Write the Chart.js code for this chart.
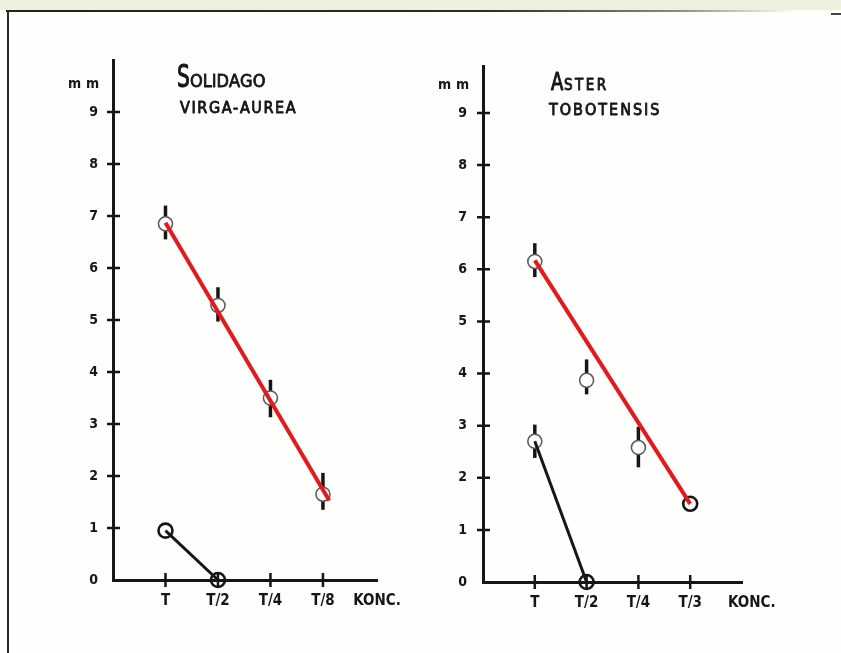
<!DOCTYPE html>
<html>
<head>
<meta charset="utf-8">
<title>Solidago / Aster</title>
<script src="https://cdn.jsdelivr.net/npm/chart.js@4.4.1/dist/chart.umd.min.js"></script>
<style>
    html, body { margin: 0; padding: 0; background: #fefefc; }
    #sheet { position: relative; width: 841px; height: 653px; overflow: hidden; background: #fefefc; }
    #sheet .strip { position: absolute; left: 0; top: 0; width: 841px; height: 10px; background: #eef0dd; }
    #sheet .edge-top { position: absolute; left: 6px; top: 10px; width: 790px; height: 2px;
        background: linear-gradient(to right, #222 0%, #2a2a2a 60%, #888 85%, rgba(160,160,160,0) 100%); }
    #sheet .edge-left { position: absolute; left: 7px; top: 10px; width: 2px; height: 643px; background: #2a2a2a; }
    #sheet .edge-right { position: absolute; left: 831px; top: 13px; width: 10px; height: 2px; background: #444; }
    #sheet canvas { position: absolute; top: 0; }
    #solidago { left: 0; }
    #aster { left: 420px; }
</style>
</head>
<body>
<div id="sheet">
    <div class="strip"></div>
    <div class="edge-top"></div>
    <div class="edge-left"></div>
    <div class="edge-right"></div>
    <canvas id="solidago" width="420" height="653"></canvas>
    <canvas id="aster" width="421" height="653"></canvas>
</div>
<script>
(function () {
    "use strict";

    const ink = "#161616";
    const red = "#e3191c";
    const ring = "#5c5c5c";
    const face = "'DejaVu Sans Condensed', 'DejaVu Sans', sans-serif";

    // concentration steps along the x axis
    const steps = [1, 2, 3, 4];
    const yTicks = [0, 1, 2, 3, 4, 5, 6, 7, 8, 9];
    const unitLabel = "mm";
    const concLabel = "KONC.";

    // Solidago virga-aurea
    const solidagoLabels = ["T", "T/2", "T/4", "T/8"];
    const solidagoMean = [6.85, 5.28, 3.5, 1.65];
    const solidagoLow = [6.55, 4.97, 3.13, 1.35];
    const solidagoHigh = [7.2, 5.63, 3.85, 2.06];
    const solidagoFitX = [1, 4.12];
    const solidagoFitY = [6.87, 1.53];
    const solidagoControl = [0.95, 0];
    const solidagoControlLow = [null, null];
    const solidagoControlHigh = [null, null];

    // Aster tobotensis
    const asterLabels = ["T", "T/2", "T/4", "T/3"];
    const asterMean = [6.15, 3.87, 2.58, 1.5];
    const asterLow = [5.85, 3.6, 2.2, null];
    const asterHigh = [6.5, 4.27, 2.98, null];
    const asterFitX = [1, 4];
    const asterFitY = [6.17, 1.5];
    const asterControl = [2.7, 0];
    const asterControlLow = [2.38, null];
    const asterControlHigh = [3.02, null];

    function hasBar(low, high) {
        return low.map((lo, i) => lo != null && high[i] != null);
    }

    // small "+" marks where the ticks cross both axes
    const crossTicks = {
        id: "crossTicks",
        beforeDatasetsDraw(chart) {
            const { ctx, chartArea: a, scales: { x, y } } = chart;
            ctx.save();
            ctx.strokeStyle = ink;
            ctx.lineWidth = 2.5;
            ctx.beginPath();
            yTicks.slice(1).forEach((v) => {
                const py = y.getPixelForValue(v);
                ctx.moveTo(a.left - 6, py);
                ctx.lineTo(a.left + 7, py);
            });
            steps.forEach((v) => {
                const px = x.getPixelForValue(v);
                ctx.moveTo(px, a.bottom - 7);
                ctx.lineTo(px, a.bottom + 7);
            });
            ctx.stroke();
            ctx.restore();
        },
    };

    // vertical spread bars behind the ring markers
    const whiskers = {
        id: "whiskers",
        beforeDatasetsDraw(chart, args, opts) {
            const { ctx, scales: { x, y } } = chart;
            ctx.save();
            ctx.strokeStyle = ink;
            ctx.lineWidth = 3.5;
            ctx.lineCap = "butt";
            (opts.sets || []).forEach((set) => {
                set.low.forEach((lo, i) => {
                    const hi = set.high[i];
                    if (lo == null || hi == null) return;
                    const px = x.getPixelForValue(steps[i]);
                    ctx.beginPath();
                    ctx.moveTo(px, y.getPixelForValue(lo));
                    ctx.lineTo(px, y.getPixelForValue(hi));
                    ctx.stroke();
                });
            });
            ctx.restore();
        },
    };

    // letter by letter, with a thin outline so the strokes look inked
    function spaced(ctx, text, x, y, gap) {
        for (const ch of text) {
            ctx.fillText(ch, x, y);
            ctx.strokeText(ch, x, y);
            x += ctx.measureText(ch).width + gap;
        }
        return x;
    }

    // hand-lettered species name and the unit over the y axis
    const captions = {
        id: "captions",
        afterDraw(chart, args, o) {
            const { ctx, chartArea: a } = chart;
            ctx.save();
            ctx.fillStyle = ink;
            ctx.strokeStyle = ink;
            ctx.lineWidth = 0.8;
            ctx.lineJoin = "round";
            ctx.textBaseline = "alphabetic";

            ctx.save();
            ctx.translate(a.left + o.initialDx, a.top + o.titleDy);
            ctx.scale(o.squeeze, 1);
            ctx.font = o.initialSize + "px " + face;
            ctx.lineWidth = 1.1;
            ctx.fillText(o.initial, 0, 0);
            ctx.strokeText(o.initial, 0, 0);
            ctx.restore();

            ctx.font = o.restSize + "px " + face;
            spaced(ctx, o.rest, a.left + o.restDx, a.top + o.titleDy, o.restGap);

            ctx.font = o.subSize + "px " + face;
            spaced(ctx, o.sub, a.left + o.subDx, a.top + o.subDy, o.subGap);

            ctx.font = "bold 14px " + face;
            for (const [i, ch] of [...unitLabel].entries()) {
                ctx.fillText(ch, a.left + o.unitDx + i * 18, a.top + o.unitDy);
            }
            ctx.restore();
        },
    };

    function panel(id, p) {
        const barT = hasBar(p.low, p.high);
        const barC = hasBar(p.controlLow, p.controlHigh);
        const ringStyle = (bars) => ({
            pointRadius: 7,
            pointHoverRadius: 7,
            pointBorderWidth: bars.map((b) => (b ? 1.6 : 2.6)),
            pointBorderColor: bars.map((b) => (b ? ring : ink)),
            pointBackgroundColor: bars.map((b) => (b ? "#ffffff" : "rgba(255,255,255,0)")),
        });

        return new Chart(document.getElementById(id), {
            type: "line",
            data: {
                datasets: [
                    {
                        label: "fit",
                        data: p.fitX.map((x, i) => ({ x, y: p.fitY[i] })),
                        borderColor: red,
                        borderWidth: 4,
                        pointRadius: 0,
                        order: 0,
                        clip: false,
                    },
                    {
                        label: "control",
                        data: p.control.map((v, i) => ({ x: steps[i], y: v })),
                        borderColor: ink,
                        borderWidth: 3,
                        pointRadius: 0,
                        order: 1,
                        clip: false,
                    },
                    Object.assign({
                        label: "treated",
                        data: p.mean.map((v, i) => ({ x: steps[i], y: v })),
                        showLine: false,
                        order: 2,
                        clip: false,
                    }, ringStyle(barT)),
                    Object.assign({
                        label: "control rings",
                        data: p.control.map((v, i) => ({ x: steps[i], y: v })),
                        showLine: false,
                        order: 2,
                        clip: false,
                    }, ringStyle(barC)),
                ],
            },
            options: {
                responsive: false,
                devicePixelRatio: 1,
                animation: false,
                events: [],
                layout: {
                    padding: { top: p.top, right: p.right, left: 0, bottom: 0 },
                },
                plugins: {
                    legend: { display: false },
                    tooltip: { enabled: false },
                    whiskers: {
                        sets: [
                            { low: p.low, high: p.high },
                            { low: p.controlLow, high: p.controlHigh },
                        ],
                    },
                    captions: p.caption,
                },
                scales: {
                    x: {
                        type: "linear",
                        min: 0,
                        max: p.xMax,
                        grid: { display: false, drawTicks: false },
                        border: { display: true, color: ink, width: 3 },
                        afterBuildTicks: (s) => {
                            s.ticks = steps
                                .map((v) => ({ value: v }))
                                .concat([{ value: p.concAt }]);
                        },
                        ticks: {
                            autoSkip: false,
                            maxRotation: 0,
                            padding: 12,
                            color: ink,
                            font: { family: face, size: 15, weight: "bold" },
                            callback: (v) =>
                                v === p.concAt ? concLabel : p.labels[steps.indexOf(v)],
                        },
                        afterFit: (s) => {
                            s.height = p.xHeight;
                            s.paddingLeft = 0;
                            s.paddingRight = 0;
                        },
                    },
                    y: {
                        type: "linear",
                        min: 0,
                        max: p.yMax,
                        grid: { display: false, drawTicks: false },
                        border: { display: true, color: ink, width: 3 },
                        afterBuildTicks: (s) => {
                            s.ticks = yTicks.map((v) => ({ value: v }));
                        },
                        ticks: {
                            padding: p.yPad,
                            color: ink,
                            font: { family: face, size: 14, weight: "bold" },
                            callback: (v) => String(v),
                        },
                        afterFit: (s) => {
                            s.width = p.yWidth;
                            s.paddingTop = 0;
                            s.paddingBottom = 0;
                        },
                    },
                },
            },
            plugins: [crossTicks, whiskers, captions],
        });
    }

    panel("solidago", {
        labels: solidagoLabels,
        mean: solidagoMean,
        low: solidagoLow,
        high: solidagoHigh,
        fitX: solidagoFitX,
        fitY: solidagoFitY,
        control: solidagoControl,
        controlLow: solidagoControlLow,
        controlHigh: solidagoControlHigh,
        top: 60,
        right: 43,
        yWidth: 113,
        xHeight: 73,
        yMax: 10,
        xMax: 5.03,
        concAt: 5.03,
        yPad: 15,
        caption: {
            initial: "S", rest: "OLIDAGO", sub: "VIRGA-AUREA",
            initialSize: 32, squeeze: 0.7, restSize: 18, subSize: 16,
            restGap: 0, subGap: 1.6,
            initialDx: 64, restDx: 77, titleDy: 27,
            subDx: 67, subDy: 53,
            unitDx: -45, unitDy: 28,
        },
    });

    panel("aster", {
        labels: asterLabels,
        mean: asterMean,
        low: asterLow,
        high: asterHigh,
        fitX: asterFitX,
        fitY: asterFitY,
        control: asterControl,
        controlLow: asterControlLow,
        controlHigh: asterControlHigh,
        top: 66,
        right: 99,
        yWidth: 63,
        xHeight: 71,
        yMax: 9.9,
        xMax: 5.0,
        concAt: 5.19,
        yPad: 16,
        caption: {
            initial: "A", rest: "STER", sub: "TOBOTENSIS",
            initialSize: 25, squeeze: 0.8, restSize: 15, subSize: 16,
            restGap: 2.5, subGap: 2,
            initialDx: 68, restDx: 81, titleDy: 24,
            subDx: 66, subDy: 49,
            unitDx: -45, unitDy: 23,
        },
    });
})();
</script>
</body>
</html>
